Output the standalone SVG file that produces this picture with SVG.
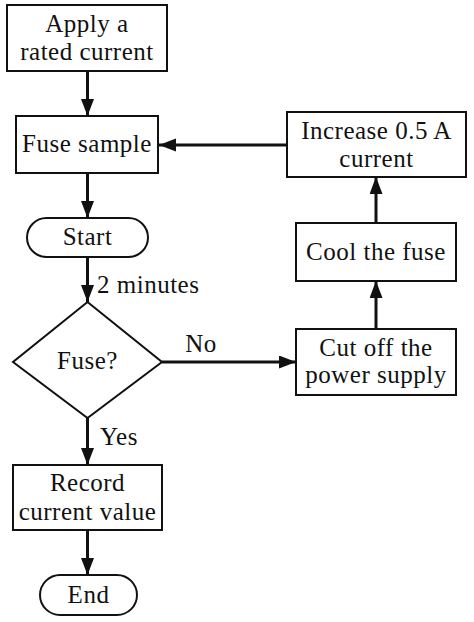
<svg xmlns="http://www.w3.org/2000/svg" width="474" height="622" viewBox="0 0 474 622">
<style>
.box{fill:#fff;stroke:#111;stroke-width:2}
.t{font-family:"Liberation Serif","Times New Roman",serif;font-size:25px;fill:#111;text-anchor:middle;letter-spacing:0.5px}
.l{text-anchor:start}
.c{fill:none;stroke:#111;stroke-width:3}
</style>
<defs>
<marker id="ah" markerUnits="userSpaceOnUse" markerWidth="18" markerHeight="14" refX="17" refY="6.5" orient="auto">
<path d="M0,0 L17,6.5 L0,13 z" fill="#111"/>
</marker>
</defs>
<rect width="474" height="622" fill="#fff"/>
<g id="connectors">
<line class="c" x1="87.5" y1="71" x2="87.5" y2="116" marker-end="url(#ah)"/>
<line class="c" x1="87.5" y1="173" x2="87.5" y2="218" marker-end="url(#ah)"/>
<line class="c" x1="87.5" y1="257" x2="87.5" y2="302" marker-end="url(#ah)"/>
<line class="c" x1="87.5" y1="418" x2="87.5" y2="465" marker-end="url(#ah)"/>
<line class="c" x1="87.5" y1="530" x2="87.5" y2="575" marker-end="url(#ah)"/>
<line class="c" x1="162" y1="362" x2="296" y2="362" marker-end="url(#ah)"/>
<line class="c" x1="376" y1="329" x2="376" y2="281" marker-end="url(#ah)"/>
<line class="c" x1="376" y1="223" x2="376" y2="177" marker-end="url(#ah)"/>
<line class="c" x1="287" y1="145" x2="159" y2="145" marker-end="url(#ah)"/>
<text class="t l" x="97" y="293">2 minutes</text>
<text class="t" x="201" y="352">No</text>
<text class="t l" x="100" y="445">Yes</text>
</g>
<g id="apply">
<rect class="box" x="7" y="5" width="160" height="66"/>
<text class="t" x="87" y="32">Apply a</text>
<text class="t" x="87" y="60">rated current</text>
</g>
<g id="fuse-sample">
<rect class="box" x="16" y="116" width="142" height="57"/>
<text class="t" x="87" y="152">Fuse sample</text>
</g>
<g id="start">
<rect class="box" x="27" y="218" width="121" height="39" rx="19.5"/>
<text class="t" x="87.5" y="245">Start</text>
</g>
<g id="decision">
<polygon class="box" points="87.5,302 162,362 87.5,418 13,362"/>
<text class="t" x="87.5" y="369">Fuse?</text>
</g>
<g id="record">
<rect class="box" x="13" y="465" width="149" height="65"/>
<text class="t" x="87.5" y="491">Record</text>
<text class="t" x="87.5" y="520">current value</text>
</g>
<g id="end">
<rect class="box" x="40" y="575" width="97" height="40" rx="20"/>
<text class="t" x="88.5" y="603">End</text>
</g>
<g id="increase">
<rect class="box" x="287" y="112" width="179" height="65"/>
<text class="t" x="376.5" y="139">Increase 0.5 A</text>
<text class="t" x="376.5" y="167">current</text>
</g>
<g id="cool">
<rect class="box" x="296" y="223" width="160" height="58"/>
<text class="t" x="376" y="260">Cool the fuse</text>
</g>
<g id="cutoff">
<rect class="box" x="296" y="329" width="160" height="66"/>
<text class="t" x="376" y="356">Cut off the</text>
<text class="t" x="376" y="383">power supply</text>
</g>
</svg>
